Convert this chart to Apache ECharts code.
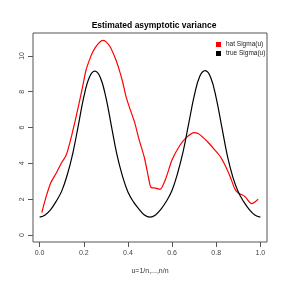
<!DOCTYPE html>
<html>
<head>
<meta charset="utf-8">
<script src="https://cdn.jsdelivr.net/npm/echarts@6/dist/echarts.min.js"></script>
<style>html,body{margin:0;padding:0;background:#fff}#c{width:284px;height:284px}</style>
</head>
<body>
<div id="c"></div>
<script>
var titleText = "Estimated asymptotic variance";
var xName = "u=1/n,...,n/n";
var seriesNames = ["hat Sigma(u)", "true Sigma(u)"];
var xTicks = [0, 0.2, 0.4, 0.6, 0.8, 1.0];
var yTicks = [0, 2, 4, 6, 8, 10];

var uTrue = [0, 0.025, 0.05, 0.075, 0.1, 0.125, 0.15, 0.175, 0.2, 0.225, 0.25,
  0.275, 0.3, 0.325, 0.35, 0.375, 0.4, 0.425, 0.45, 0.475, 0.5,
  0.525, 0.55, 0.575, 0.6, 0.625, 0.65, 0.675, 0.7, 0.725, 0.75,
  0.775, 0.8, 0.825, 0.85, 0.875, 0.9, 0.925, 0.95, 0.975, 1.0];
var trueVals = [1.0, 1.12, 1.42, 1.88, 2.45, 3.35, 4.55, 6.1, 7.7, 8.8, 9.15,
  8.8, 7.7, 6.1, 4.5, 3.3, 2.4, 1.85, 1.45, 1.12, 1.0,
  1.12, 1.45, 1.9, 2.5, 3.45, 4.65, 6.2, 7.75, 8.85, 9.18,
  8.8, 7.65, 6.05, 4.45, 3.25, 2.4, 1.85, 1.42, 1.12, 1.0];

var uHat = [0.01, 0.025, 0.05, 0.075, 0.1, 0.12, 0.14, 0.165, 0.19, 0.21, 0.225, 0.24, 0.26,
  0.285, 0.3, 0.32, 0.345, 0.36, 0.375, 0.39, 0.405, 0.43, 0.45, 0.475, 0.495, 0.505,
  0.525, 0.545, 0.57, 0.6, 0.635, 0.665, 0.7, 0.72, 0.74, 0.765, 0.79, 0.82, 0.84,
  0.862, 0.885, 0.9, 0.93, 0.96, 0.99];
var hatVals = [1.25, 1.95, 2.9, 3.45, 4.05, 4.45, 5.3, 6.6, 8.0, 9.2, 9.75, 10.2, 10.6,
  10.87, 10.8, 10.5, 9.8, 9.25, 8.6, 7.8, 7.2, 6.3, 5.35, 4.3, 3.1, 2.65,
  2.62, 2.55, 3.1, 4.2, 5.0, 5.45, 5.72, 5.65, 5.45, 5.15, 4.8, 4.35, 3.9,
  3.3, 2.55, 2.35, 2.15, 1.75, 2.0];

function pairs(xs, ys) { return xs.map(function (x, i) { return [x, ys[i]]; }); }

var font = "Liberation Sans, Arial, sans-serif";
var chart = echarts.init(document.getElementById('c'), null, {renderer: 'canvas'});
chart.setOption({
  animation: false,
  backgroundColor: '#fff',
  title: {
    text: titleText, left: 149, top: 16, textAlign: 'center',
    textStyle: {fontFamily: font, fontSize: 8.5, fontWeight: 'bold', color: '#000'}
  },
  legend: {
    orient: 'vertical', left: 211, top: 36, itemWidth: 5, itemHeight: 5, itemGap: 2,
    icon: 'rect',
    data: seriesNames,
    textStyle: {fontFamily: font, fontSize: 6.5, color: '#222'}
  },
  grid: {left: 33, top: 33, right: 17, bottom: 42, show: true, borderColor: '#555', borderWidth: 1, backgroundColor: 'transparent'},
  xAxis: {
    type: 'value', min: -0.03, max: 1.03,
    name: xName, nameLocation: 'middle', nameGap: 26,
    nameTextStyle: {fontFamily: font, fontSize: 7, color: '#333'},
    axisLine: {show: false, onZero: false},
    splitLine: {show: false},
    axisTick: {show: true, length: 5, lineStyle: {color: '#555'}, customValues: xTicks},
    axisLabel: {fontFamily: font, fontSize: 7, color: '#444', margin: 8, customValues: xTicks,
      formatter: function (v) { return v.toFixed(1); }}
  },
  yAxis: {
    type: 'value', min: -0.39, max: 11.28,
    axisLine: {show: false, onZero: false},
    splitLine: {show: false},
    axisTick: {show: true, length: 5, lineStyle: {color: '#555'}, customValues: yTicks},
    axisLabel: {fontFamily: font, fontSize: 7, color: '#444', margin: 7, rotate: 90, customValues: yTicks}
  },
  series: [
    {name: seriesNames[0], type: 'line', data: pairs(uHat, hatVals), showSymbol: false, smooth: 0.25,
      lineStyle: {color: '#ff0000', width: 1.2}, itemStyle: {color: '#ff0000'}},
    {name: seriesNames[1], type: 'line', data: pairs(uTrue, trueVals), showSymbol: false, smooth: 0.4,
      lineStyle: {color: '#000000', width: 1.2}, itemStyle: {color: '#000000'}}
  ]
});
</script>
</body>
</html>
